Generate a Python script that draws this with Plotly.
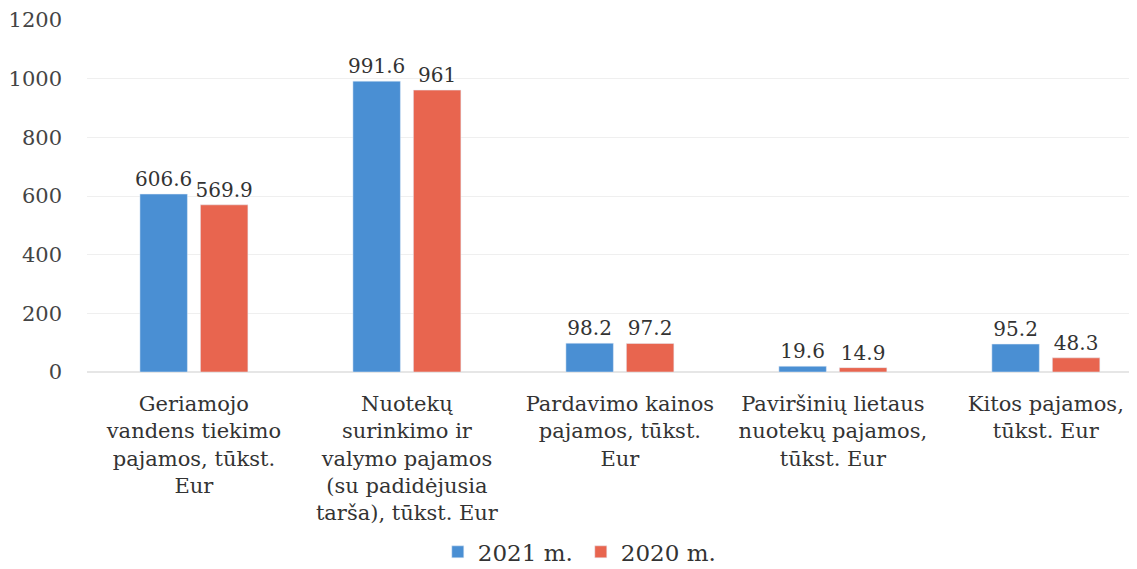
import plotly.graph_objects as go

categories = [
    "Geriamojo<br>vandens tiekimo<br>pajamos, tūkst.<br>Eur",
    "Nuotekų<br>surinkimo ir<br>valymo pajamos<br>(su padidėjusia<br>tarša), tūkst. Eur",
    "Pardavimo kainos<br>pajamos, tūkst.<br>Eur",
    "Paviršinių lietaus<br>nuotekų pajamos,<br>tūkst. Eur",
    "Kitos pajamos,<br>tūkst. Eur",
]
values_2021 = [606.6, 991.6, 98.2, 19.6, 95.2]
values_2020 = [569.9, 961, 97.2, 14.9, 48.3]
labels_2021 = ["606.6", "991.6", "98.2", "19.6", "95.2"]
labels_2020 = ["569.9", "961", "97.2", "14.9", "48.3"]
y_ticks = [0, 200, 400, 600, 800, 1000, 1200]

FONT = "DejaVu Serif, Liberation Serif, serif"
TXT = "#333333"

fig = go.Figure()
fig.add_trace(go.Bar(
    name="2021 m.", x=categories, y=values_2021,
    marker_color="#4a8fd3",
    text=labels_2021, textposition="outside", cliponaxis=False, constraintext="none",
    textfont=dict(family=FONT, size=20, color=TXT),
))
fig.add_trace(go.Bar(
    name="2020 m.", x=categories, y=values_2020,
    marker_color="#e8654f",
    text=labels_2020, textposition="outside", cliponaxis=False, constraintext="none",
    textfont=dict(family=FONT, size=20, color=TXT),
))

fig.update_layout(
    width=1137, height=569,
    margin=dict(l=79, r=8, t=12, b=205, autoexpand=False),
    paper_bgcolor="white", plot_bgcolor="white",
    barmode="group", bargap=0.432, bargroupgap=0.215,
    font=dict(family=FONT, size=21, color=TXT),
    showlegend=True,
    legend=dict(orientation="h", xref="container", x=0.378, xanchor="left",
                y=-0.511, yanchor="middle",
                font=dict(family=FONT, size=23, color=TXT),
                entrywidth=98, entrywidthmode="pixels",
                itemwidth=30, traceorder="normal", tracegroupgap=0),
    uniformtext=dict(mode=False),
)
fig.update_xaxes(range=[-0.502, 4.428], showgrid=False, showline=False, ticks="",
                 tickangle=0, ticklabelstandoff=17,
                 tickfont=dict(family=FONT, size=21, color=TXT))
fig.update_yaxes(range=[0, 1200], tickvals=y_ticks, showgrid=True,
                 gridcolor="#efefef", zeroline=True, zerolinecolor="#e6e6e6",
                 showline=False, ticks="", ticklabelstandoff=24,
                 tickfont=dict(family=FONT, size=21, color="#444444"))

fig.write_html("out.html")
